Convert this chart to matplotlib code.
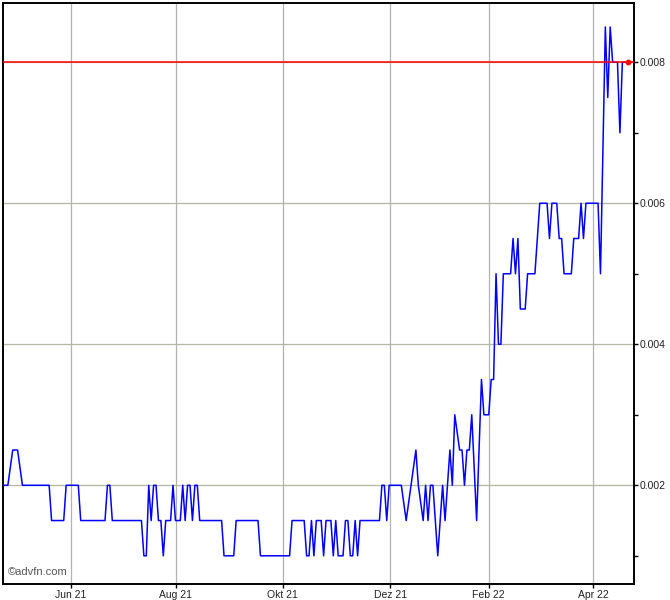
import matplotlib
matplotlib.use("Agg")
import matplotlib.pyplot as plt
from matplotlib.ticker import FixedLocator

# trading-day index of each vertex of the price line, and price there
days = [0, 2, 4, 6, 8, 19, 20, 25, 26, 31, 32, 42, 43, 44, 45, 57, 58, 59, 60, 61,
        62, 63, 64, 65, 66, 67, 69, 70, 71, 73, 74, 75, 76, 77, 78, 79, 80, 81, 90, 91,
        95, 96, 105, 106, 118, 119, 124, 125, 126, 127, 128, 129, 131, 132, 133, 135, 136, 137, 138, 140,
        141, 142, 143, 144, 145, 146, 147, 155, 156, 157, 158, 159, 164, 166, 168, 170, 171, 173, 174, 175,
        176, 177, 179, 181, 182, 184, 185, 186, 188, 189, 190, 191, 192, 193, 195, 197, 198, 200, 201, 202,
        203, 204, 205, 206, 209, 210, 211, 212, 213, 215, 216, 219, 221, 224, 225, 226, 228, 229, 230, 231,
        234, 235, 237, 238, 239, 240, 245, 246, 248, 249, 250, 251, 253, 254, 255, 256]
prices = [0.002, 0.002, 0.0025, 0.0025, 0.002, 0.002, 0.0015, 0.0015, 0.002, 0.002, 0.0015, 0.0015, 0.002, 0.002, 0.0015, 0.0015, 0.001, 0.001, 0.002, 0.0015,
          0.002, 0.002, 0.0015, 0.0015, 0.001, 0.0015, 0.0015, 0.002, 0.0015, 0.0015, 0.002, 0.0015, 0.002, 0.002, 0.0015, 0.002, 0.002, 0.0015, 0.0015, 0.001,
          0.001, 0.0015, 0.0015, 0.001, 0.001, 0.0015, 0.0015, 0.001, 0.001, 0.0015, 0.001, 0.0015, 0.0015, 0.001, 0.0015, 0.0015, 0.001, 0.0015, 0.001, 0.001,
          0.0015, 0.0015, 0.001, 0.001, 0.0015, 0.001, 0.0015, 0.0015, 0.002, 0.002, 0.0015, 0.002, 0.002, 0.0015, 0.002, 0.0025, 0.002, 0.0015, 0.002, 0.0015,
          0.002, 0.002, 0.001, 0.002, 0.0015, 0.0025, 0.002, 0.003, 0.0025, 0.0025, 0.002, 0.0025, 0.0025, 0.003, 0.0015, 0.0035, 0.003, 0.003, 0.0035, 0.0035,
          0.005, 0.004, 0.004, 0.005, 0.005, 0.0055, 0.005, 0.0055, 0.0045, 0.0045, 0.005, 0.005, 0.006, 0.006, 0.0055, 0.006, 0.006, 0.0055, 0.0055, 0.005,
          0.005, 0.0055, 0.0055, 0.006, 0.0055, 0.006, 0.006, 0.005, 0.0085, 0.0075, 0.0085, 0.008, 0.008, 0.007, 0.008, 0.008]

last_price = 0.008

month_pos = [27.8, 71.2, 115.1, 159.5, 200.0, 243.0]
month_labels = ["Jun 21", "Aug 21", "Okt 21", "Dez 21", "Feb 22", "Apr 22"]

y_major = [0.002, 0.004, 0.006, 0.008]
y_major_labels = ["0.002", "0.004", "0.006", "0.008"]
y_minor = [0.001, 0.003, 0.005, 0.007]

plt.rcParams['font.family'] = ['Liberation Sans', 'DejaVu Sans']

fig = plt.figure(figsize=(6.7, 6.0), dpi=100)
ax = fig.add_axes([3/670, 16/600, 631/670, 581/600])

ax.set_xlim(0, 259.8)
ax.set_ylim(0.0006, 0.00884)

# grid
for xp in month_pos:
    ax.axvline(xp, color='#b0b3b0', lw=0.9, zorder=1)
for yp in y_major:
    ax.axhline(yp, color='#b5b6a2', lw=0.9, zorder=1)

ax.plot(days, prices, color='#0000ff', lw=1.1, zorder=3)
ax.axhline(last_price, color='#ff0000', lw=1.1, zorder=4)
ax.plot([days[-1] + 1.2], [last_price], 'o', color='#ff0000', ms=3.2, zorder=5)

ax.yaxis.tick_right()
ax.yaxis.set_major_locator(FixedLocator(y_major))
ax.set_yticklabels(y_major_labels)
ax.yaxis.set_minor_locator(FixedLocator(y_minor))
ax.set_xticks(month_pos)
ax.set_xticklabels(month_labels)

ax.tick_params(axis='both', which='both', direction='out', length=3, width=1, colors='black',
               labelsize=7.5, labelcolor='#222222')
ax.tick_params(axis='y', which='both', left=False, right=True, pad=1)
ax.tick_params(axis='x', pad=1.5)

for s in ax.spines.values():
    s.set_color('black')
    s.set_linewidth(1.4)

ax.text(0.007, 0.012, "\u00a9advfn.com", transform=ax.transAxes, fontsize=8,
        color='#555555', ha='left', va='bottom')

fig.savefig("out.png", dpi=100)
